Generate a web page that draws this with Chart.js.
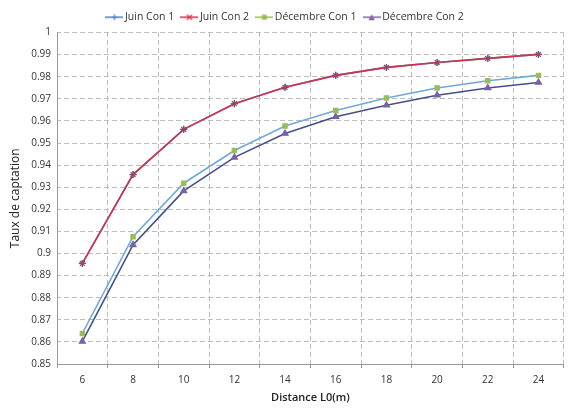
<!DOCTYPE html>
<html>
<head>
<meta charset="utf-8">
<script src="https://cdn.jsdelivr.net/npm/chart.js@4/dist/chart.umd.min.js"></script>
<style>
  html, body { margin: 0; padding: 0; background: #fff; }
  #wrap { width: 569px; height: 408px; }
</style>
</head>
<body>
<div id="wrap"><canvas id="chart" width="569" height="408"></canvas></div>
<script>
const distances = [6, 8, 10, 12, 14, 16, 18, 20, 22, 24];
const juinCon1 = [0.8955, 0.9357, 0.9562, 0.9678, 0.9752, 0.9806, 0.9842, 0.9864, 0.9883, 0.9901];
const juinCon2 = [0.8955, 0.9357, 0.9562, 0.9678, 0.9752, 0.9806, 0.9842, 0.9864, 0.9883, 0.9901];
const decCon1 = [0.8638, 0.9076, 0.9318, 0.9466, 0.9577, 0.9647, 0.9704, 0.9749, 0.9782, 0.9806];
const decCon2 = [0.8602, 0.9039, 0.9283, 0.9435, 0.9543, 0.9619, 0.9671, 0.9716, 0.9749, 0.9774];

const FONT = "'Open Sans', sans-serif";
const canvas = document.getElementById("chart");
const ctx = canvas.getContext("2d");

// dashed grid lines done with a repeating pattern as stroke colour
function dashPattern(horizontal) {
  const p = document.createElement("canvas");
  p.width = horizontal ? 8 : 1;
  p.height = horizontal ? 1 : 8;
  const g = p.getContext("2d");
  g.fillStyle = "#bdbdbd";
  if (horizontal) g.fillRect(0, 0, 5, 1); else g.fillRect(0, 0, 1, 5);
  return ctx.createPattern(p, "repeat");
}

// little legend icons: line with marker in the middle
function legendIcon(color, shape) {
  const c = document.createElement("canvas");
  c.width = 18; c.height = 10;
  const g = c.getContext("2d");
  g.strokeStyle = color;
  g.lineWidth = 1.5;
  g.beginPath(); g.moveTo(0, 5); g.lineTo(18, 5); g.stroke();
  g.fillStyle = color; g.lineWidth = 1.2;
  if (shape === "cross") {
    g.beginPath(); g.moveTo(9, 2); g.lineTo(9, 8); g.moveTo(6, 5); g.lineTo(12, 5); g.stroke();
  } else if (shape === "star") {
    g.beginPath(); g.moveTo(6.5, 2.5); g.lineTo(11.5, 7.5); g.moveTo(11.5, 2.5); g.lineTo(6.5, 7.5); g.stroke();
  } else if (shape === "rect") {
    g.fillRect(6.5, 2.5, 5, 5);
  } else {
    g.beginPath(); g.moveTo(9, 2); g.lineTo(12, 8); g.lineTo(6, 8); g.closePath(); g.fill();
  }
  return c;
}

// order: lower number is drawn on top
const series = [
  { label: "Juin Con 1", data: juinCon1, line: "#4F81BD", mark: "#4F81BD", style: "cross", order: 3 },
  { label: "Juin Con 2", data: juinCon2, line: "#D2334C", mark: "#8A4A6A", style: "star", order: 0 },
  { label: "Décembre Con 1", data: decCon1, line: "#6FA9D8", mark: "#9BBB59", style: "rect", order: 1 },
  { label: "Décembre Con 2", data: decCon2, line: "#44508A", mark: "#7A62A6", style: "triangle", order: 2 }
];

const legendColors = ["#4F81BD", "#D2334C", "#9BBB59", "#8064A2"];

new Chart(canvas, {
  type: "line",
  data: {
    labels: distances,
    datasets: series.map(s => ({
      label: s.label,
      data: s.data,
      order: s.order,
      borderColor: s.line,
      backgroundColor: s.mark,
      pointBorderColor: s.mark,
      pointBackgroundColor: s.mark,
      pointStyle: s.style,
      pointRadius: s.style === "rect" ? 3 : 3.5,
      pointBorderWidth: 1.2,
      borderWidth: 1.6,
      tension: 0,
      fill: false
    }))
  },
  options: {
    responsive: false,
    animation: false,
    layout: { padding: { left: 4, right: 0, top: 2, bottom: 0 } },
    plugins: {
      tooltip: { enabled: false },
      legend: {
        position: "top",
        labels: {
          usePointStyle: true,
          boxWidth: 18,
          boxHeight: 10,
          padding: 10,
          color: "#333",
          font: { family: FONT, size: 10.5 },
          generateLabels: () => series.map((s, i) => ({
            text: s.label,
            pointStyle: legendIcon(legendColors[i], s.style),
            fillStyle: legendColors[i],
            strokeStyle: legendColors[i],
            lineWidth: 0,
            datasetIndex: i,
            fontColor: "#333"
          }))
        }
      }
    },
    scales: {
      x: {
        offset: true,
        grid: { offset: true, color: dashPattern(false), tickLength: 4, tickColor: "#999" },
        border: { color: "#999" },
        ticks: { color: "#333", font: { family: FONT, size: 10 }, padding: 6 },
        title: { display: true, text: "Distance L0(m)", color: "#222", font: { family: FONT, size: 11, weight: "600" }, padding: { top: 3 } },
        afterFit: (axis) => { axis.height = 44; }
      },
      y: {
        min: 0.85,
        max: 1,
        ticks: {
          stepSize: 0.01,
          color: "#333",
          font: { family: FONT, size: 10 },
          padding: 6,
          callback: (v) => String(parseFloat(Number(v).toFixed(2)))
        },
        grid: { color: dashPattern(true), drawTicks: false },
        border: { color: "#999" },
        title: { display: true, text: "Taux de captation", color: "#222", font: { family: FONT, size: 12 }, padding: { bottom: 1 } },
        afterFit: (axis) => { axis.width = 53; }
      }
    }
  }
});
</script>
</body>
</html>
